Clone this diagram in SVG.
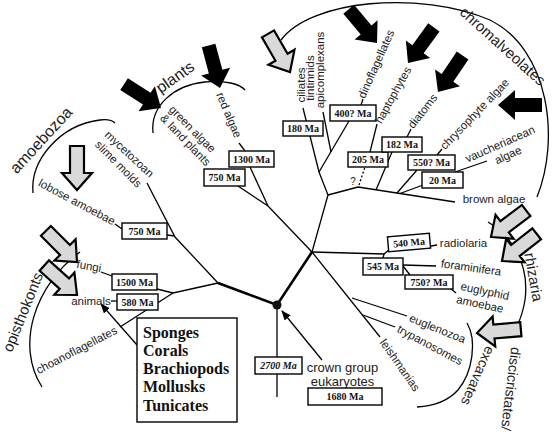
<svg xmlns="http://www.w3.org/2000/svg" width="553" height="432" viewBox="0 0 553 432">
<style>
.t{font-family:"Liberation Sans",Arial,sans-serif;font-size:11.5px;fill:#222;dominant-baseline:central;text-anchor:middle}
.g{font-size:15px}
.bx{fill:#fff;stroke:#000;stroke-width:1.4}
.bt{font-family:"Liberation Serif","Times New Roman",serif;font-weight:bold;font-size:10px;text-anchor:middle;fill:#111}
.ln{fill:none;stroke:#000;stroke-width:1.3}
.thk{stroke-width:2.6}
.arc{fill:none;stroke:#000;stroke-width:1.3}
.ba{fill:#000}
.ga{fill:#d9d9d9;stroke:#000;stroke-width:2.2}
.sp{font-family:"Liberation Serif","Times New Roman",serif;font-weight:bold;font-size:16px;fill:#111}
</style>
<defs>
<path id="arr" d="M0,0 L-17,-15 L-17,-7 L-44,-7 L-44,7 L-17,7 L-17,15 Z"/>
<marker id="ah" markerWidth="10" markerHeight="8" refX="9" refY="4" orient="auto" markerUnits="userSpaceOnUse"><path d="M0,0 L10,4 L0,8 Z" fill="#000"/></marker>
</defs>
<rect width="553" height="432" fill="#fff"/>

<g id="brackets">
<path class="arc" d="M33,193 C30,160 60,125 100,120 C108,119 113,121 115,123"/>
<path class="arc" d="M153,133 C150,105 175,85 205,82 C225,80 240,84 245,90"/>
<path class="arc" d="M281,40 C310,0 420,-10 490,20 C550,50 560,140 537,197"/>
<path class="arc" d="M488,222 C510,235 530,262 525,300 C523,312 520,320 517,326"/>
<path class="arc" d="M467,323 C477,340 473,372 458,390 C449,400 435,406 417,407"/>
<path class="arc" d="M80,252 C35,285 15,345 42,387"/>
</g>

<g id="connectors">
<path class="ln thk" d="M218,283 L277,305 L312,252"/>
<path class="ln" d="M277,305 L277,397"/>
<path class="ln" d="M312,252 L328,195 L319,172 L303,108"/>
<path class="ln" d="M319,172 L349,121"/>
<path class="ln" d="M361,105 L363,99"/>
<path class="ln" d="M323,112 L331,152"/>
<path class="ln" d="M328,195 L358,187 L455,202"/>
<path class="ln" d="M359,185 L365,167" stroke-dasharray="2,2"/>
<path class="ln" d="M370,152 L377,124"/>
<path class="ln" d="M376,190 L392,152"/>
<path class="ln" d="M407,137 L411,129"/>
<path class="ln" d="M397,193 L417,170"/>
<path class="ln" d="M437,155 L442,149"/>
<path class="ln" d="M400,193.5 L423,185"/>
<path class="ln" d="M455,172 L487,161"/>
<path class="ln" d="M312,252 L384,254 L390,249"/>
<path class="ln" d="M384,254 L383,258"/>
<path class="ln" d="M431,246 L437,245"/>
<path class="ln" d="M403,265 L436,266"/>
<path class="ln" d="M403,266 L410,275"/>
<path class="ln" d="M450,288 L456,293"/>
<path class="ln" d="M238,186 L268,206 L312,252 L380,337"/>
<path class="ln" d="M250,167 L268,206"/>
<path class="ln" d="M239,143 L245,151"/>
<path class="ln" d="M352,298 L407,316"/>
<path class="ln" d="M363,315 L395,327"/>
<path class="ln" d="M147,183 L175,237 L218,283"/>
<path class="ln" d="M167,235 L175,236"/>
<path class="ln" d="M115,224 L122,229"/>
<path class="ln" d="M218,283 L173,293 L157,289"/>
<path class="ln" d="M173,293 L120,327"/>
<path class="ln" d="M101,272 L112,276"/>
<path class="ln" d="M111,301 L117,301"/>
<path class="ln" d="M137,345 L101,304" marker-end="url(#ah)"/>
<path class="ln" d="M322,360 L282,311" marker-end="url(#ah)"/>
</g>

<circle id="root-node" cx="277" cy="305" r="4.5" fill="#111"/>

<g id="arrows">
<use href="#arr" class="ba" transform="translate(161,108) rotate(33)"/>
<use href="#arr" class="ba" transform="translate(220,88) rotate(75)"/>
<use href="#arr" class="ba" transform="translate(377,43) rotate(50)"/>
<use href="#arr" class="ba" transform="translate(408,63) rotate(126)"/>
<use href="#arr" class="ba" transform="translate(438,92) rotate(124)"/>
<use href="#arr" class="ba" transform="translate(498,105) rotate(180)"/>
<use href="#arr" class="ga" transform="translate(290,72) rotate(60)"/>
<use href="#arr" class="ga" transform="translate(77,190) rotate(90)"/>
<use href="#arr" class="ga" transform="translate(77,262) rotate(45)"/>
<use href="#arr" class="ga" transform="translate(77,295) rotate(42)"/>
<use href="#arr" class="ga" transform="translate(491,237) rotate(143)"/>
<use href="#arr" class="ga" transform="translate(502,261) rotate(142)"/>
<use href="#arr" class="ga" transform="translate(477,333) rotate(175)"/>
</g>

<g id="group-labels">
<text class="t" style="font-size:16px" transform="translate(41,140) rotate(-47.5)">amoebozoa</text>
<text class="t" style="font-size:16px" transform="translate(175,77) rotate(-35)">plants</text>
<text class="t g" transform="translate(503,46) rotate(42)">chromalveolates</text>
<text class="t g" transform="translate(22.5,312) rotate(-68)">opisthokonts</text>
<text class="t g" transform="translate(534,277) rotate(80)">rhizaria</text>
<text class="t" style="font-size:14px" transform="translate(511,389) rotate(97)">discicristates/</text>
<text class="t" style="font-size:14px" transform="translate(478,376) rotate(114)">excavates</text>
</g>

<g id="node-mycetozoan">
<text class="t" transform="translate(129.5,154) rotate(43)">mycetozoan</text>
<text class="t" transform="translate(118.5,164) rotate(45)">slime molds</text>
</g>
<g id="node-lobose">
<text class="t" transform="translate(77,202) rotate(28)">lobose amoebae</text>
<rect class="bx" x="122" y="223" width="45" height="16"/><text class="bt" x="144.5" y="234.5">750 Ma</text>
</g>
<g id="node-green-algae">
<text class="t" transform="translate(192.5,129) rotate(45)">green algae</text>
<text class="t" transform="translate(185.5,140) rotate(46)">&amp; land plants</text>
<rect class="bx" x="204" y="169" width="41" height="17"/><text class="bt" x="224.5" y="181">750 Ma</text>
</g>
<g id="node-red-algae">
<text class="t" transform="translate(229,115) rotate(67)">red algae</text>
<rect class="bx" x="229" y="151" width="45" height="16"/><text class="bt" x="251.5" y="162.5">1300 Ma</text>
</g>
<g id="node-ciliates">
<text class="t" transform="translate(300.5,85) rotate(-90)">ciliates</text>
<text class="t" transform="translate(309.5,78) rotate(-90)">tintinnids</text>
<text class="t" transform="translate(320,70) rotate(-90)">apicomplexans</text>
<rect class="bx" x="283" y="121" width="40" height="15"/><text class="bt" x="303" y="132">180 Ma</text>
</g>
<g id="node-dinoflagellates">
<text class="t" transform="translate(376,64) rotate(-66)">dinoflagellates</text>
<rect class="bx" x="330" y="105" width="46" height="16"/><text class="bt" x="353" y="116.5">400? Ma</text>
</g>
<g id="node-haptophytes">
<text class="t" transform="translate(393,95) rotate(-61)">haptophytes</text>
<rect class="bx" x="348" y="152" width="40" height="15"/><text class="bt" x="368" y="163">205 Ma</text>
<text class="t" style="font-size:10px" x="353" y="181">?</text>
</g>
<g id="node-diatoms">
<text class="t" transform="translate(422.5,111) rotate(-52)">diatoms</text>
<rect class="bx" x="382" y="137" width="40" height="15"/><text class="bt" x="402" y="148">182 Ma</text>
</g>
<g id="node-chrysophyte">
<text class="t" transform="translate(474.5,114) rotate(-46)">chrysophyte algae</text>
<rect class="bx" x="408" y="155" width="47" height="15"/><text class="bt" x="431.5" y="166">550? Ma</text>
</g>
<g id="node-vaucheriacean">
<text class="t" transform="translate(500,144) rotate(-24)">vaucheriacean</text>
<text class="t" transform="translate(508,155) rotate(-25)">algae</text>
<rect class="bx" x="422" y="172" width="41" height="16"/><text class="bt" x="442.5" y="183.5">20 Ma</text>
</g>
<g id="node-brown-algae">
<text class="t" x="494" y="199">brown algae</text>
</g>
<g id="node-radiolaria">
<g transform="rotate(-5,409,242.5)"><rect class="bx" x="388" y="235" width="42" height="15"/><text class="bt" x="409" y="246">540 Ma</text></g>
<text class="t" x="463.5" y="243">radiolaria</text>
</g>
<g id="node-foraminifera">
<rect class="bx" x="363" y="258" width="40" height="17"/><text class="bt" x="383" y="270">545 Ma</text>
<text class="t" transform="translate(471,267.5) rotate(8)">foraminifera</text>
</g>
<g id="node-euglyphid">
<rect class="bx" x="405" y="275" width="48" height="14"/><text class="bt" x="429" y="285.5">750? Ma</text>
<text class="t" transform="translate(485,291) rotate(12)">euglyphid</text>
<text class="t" transform="translate(480,304) rotate(12)">amoebae</text>
</g>
<g id="node-euglenozoa"><text class="t" transform="translate(437.5,328.5) rotate(22)">euglenozoa</text></g>
<g id="node-trypanosomes"><text class="t" transform="translate(430,345) rotate(28)">trypanosomes</text></g>
<g id="node-leishmanias"><text class="t" transform="translate(400,365) rotate(55)">leishmanias</text></g>
<g id="node-root">
<rect class="bx" x="255" y="357" width="47" height="17"/><text class="bt" style="font-style:italic" x="278.5" y="369">2700 Ma</text>
<text class="t" style="font-size:13px" x="342.5" y="367">crown group</text>
<text class="t" style="font-size:13px" x="342.5" y="381">eukaryotes</text>
<rect class="bx" x="308" y="388" width="74" height="17"/><text class="bt" x="345" y="400">1680 Ma</text>
</g>
<g id="node-fungi">
<text class="t" transform="translate(89,266) rotate(10)">fungi</text>
<rect class="bx" x="112" y="274" width="45" height="16"/><text class="bt" x="134.5" y="285.5">1500 Ma</text>
</g>
<g id="node-animals">
<text class="t" x="91" y="301">animals</text>
<rect class="bx" x="117" y="294" width="41" height="16"/><text class="bt" x="137.5" y="305.5">580 Ma</text>
</g>
<g id="node-choanoflagellates"><text class="t" transform="translate(76.5,350) rotate(-27.5)">choanoflagellates</text></g>
<g id="node-animal-list">
<rect class="bx" x="137" y="318" width="100" height="104"/>
<text class="sp" x="143" y="338">Sponges</text>
<text class="sp" x="143" y="356">Corals</text>
<text class="sp" x="143" y="374">Brachiopods</text>
<text class="sp" x="143" y="392">Mollusks</text>
<text class="sp" x="143" y="410.5">Tunicates</text>
</g>
</svg>
